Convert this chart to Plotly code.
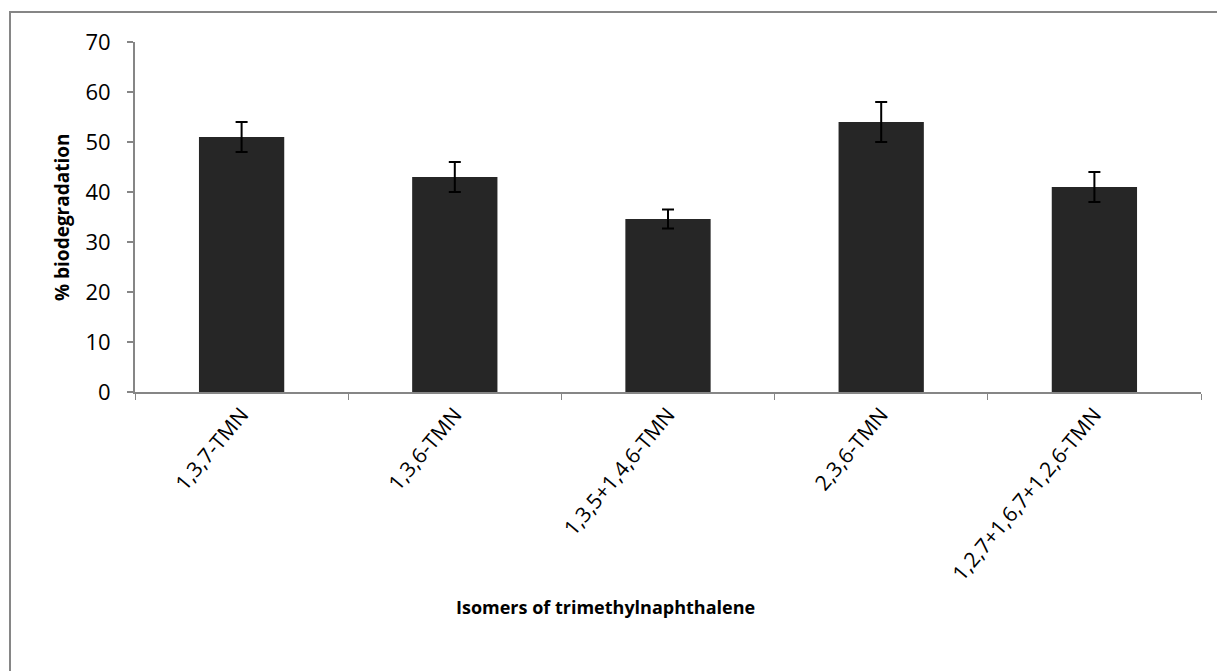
import plotly.graph_objects as go

categories = ["1,3,7-TMN", "1,3,6-TMN", "1,3,5+1,4,6-TMN", "2,3,6-TMN", "1,2,7+1,6,7+1,2,6-TMN"]
values = [51, 43, 34.6, 54, 41]
errors = [3, 3, 1.9, 4, 3]

W, H = 1217, 671
L, R, T, B = 135, 16, 42, 279
pw, ph = W - L - R, H - T - B

def px_x(x):
    return (x - L) / pw

def px_y(y):
    return (H - B - y) / ph

fig = go.Figure()
fig.add_trace(go.Bar(
    x=categories, y=values,
    marker=dict(color="#262626", line=dict(width=0)),
    error_y=dict(type="data", array=errors, visible=True, color="#000000", thickness=2, width=6),
))

font_family = "Open Sans, Noto Sans, sans-serif"
fig.update_layout(
    width=W, height=H,
    margin=dict(l=L, r=R, t=T, b=B, autoexpand=False),
    plot_bgcolor="white", paper_bgcolor="white",
    bargap=0.6, showlegend=False,
    font=dict(family=font_family, size=20, color="#000000"),
    xaxis=dict(
        type="category", tickangle=-50, tickson="boundaries",
        ticks="outside", ticklen=6, tickcolor="#868686", tickwidth=1,
        showline=True, linecolor="#868686", linewidth=2, showgrid=False,
        tickfont=dict(size=21), automargin=False,
    ),
    yaxis=dict(
        range=[0, 70], dtick=10, ticks="outside", ticklen=6,
        tickcolor="#868686", tickwidth=2, showline=True, linecolor="#868686",
        linewidth=2, showgrid=False, zeroline=False, tickfont=dict(size=22),
        ticklabelstandoff=12, automargin=False,
    ),
    annotations=[
        dict(text="<b>% biodegradation</b>", textangle=-90, x=px_x(62), y=px_y(217),
             xref="paper", yref="paper", showarrow=False, font=dict(size=19),
             xanchor="center", yanchor="middle"),
        dict(text="<b>Isomers of trimethylnaphthalene</b>", x=px_x(605), y=px_y(607),
             xref="paper", yref="paper", showarrow=False, font=dict(size=18),
             xanchor="center", yanchor="middle"),
    ],
    shapes=[
        dict(type="rect", xref="paper", yref="paper",
             x0=px_x(10), x1=px_x(1222), y0=px_y(680), y1=px_y(12),
             line=dict(color="#868686", width=2), fillcolor="rgba(0,0,0,0)", layer="below"),
    ],
)

fig.write_html("out.html")
